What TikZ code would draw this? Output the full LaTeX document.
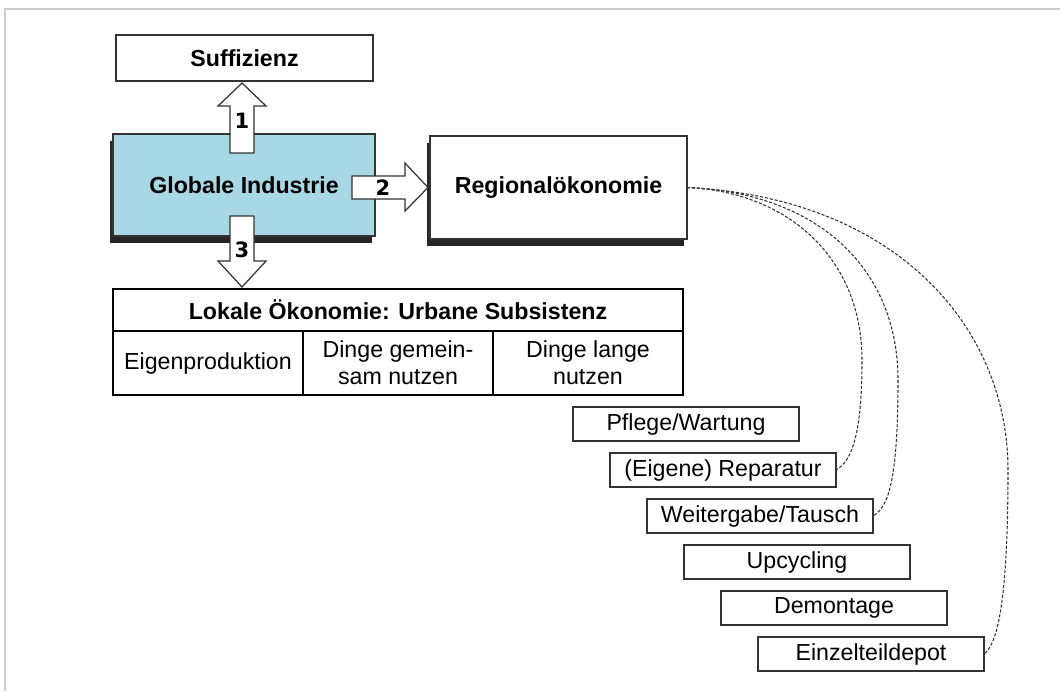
\documentclass[tikz,border=0pt]{standalone}
\usepackage{fontspec}
\setmainfont{Liberation Sans}
\newfontfamily\numfont{DejaVu Sans}
\usetikzlibrary{shadows}
\definecolor{globalblue}{RGB}{168,216,229}

\begin{document}
\begin{tikzpicture}[x=0.02cm,y=-0.02cm,
  font=\fontsize{13.2}{15.3}\selectfont,
  box/.style={draw=black!80,line width=0.7pt,fill=white,inner sep=0pt,outer sep=0pt,align=center},
  shadowbox/.style={box,drop shadow={shadow xshift=-0.06cm,shadow yshift=-0.14cm,fill=black!85,opacity=1}},
  headfont/.style={font=\fontsize{13.2}{15.3}\selectfont\bfseries},
  cell/.style={draw=black,line width=0.8pt,inner sep=0pt,outer sep=0pt,minimum width=3.8cm,minimum height=1.28cm,align=center},
  stepbox/.style={box,minimum width=4.52cm,minimum height=0.68cm},
  blockarrow/.style={draw=black!80,fill=white,line width=0.7pt,line join=miter},
  num/.style={font=\numfont\bfseries\fontsize{12}{14}\selectfont},
  link/.style={draw=black!80,line width=0.6pt,dash pattern=on 1.8pt off 1pt}]
\useasboundingbox (0,0) rectangle (1060,691);

% frame
\draw [black!20,line width=1.5pt] (5,691) -- (5,9) -- (1060,9);

% main boxes
\node [box,headfont,minimum width=5.14cm,minimum height=0.92cm] (suff) at (244.5,58) {Suffizienz};
\node [shadowbox,headfont,fill=globalblue,minimum width=5.24cm,minimum height=2.04cm] (glob) at (244,185) {Globale Industrie};
\node [shadowbox,headfont,minimum width=5.14cm,minimum height=2.06cm] (regio) at (558.5,187.5) {Regionalökonomie};

% local economy table
\node [cell,headfont,minimum width=11.4cm,minimum height=0.84cm] (lokal) at (398,310) {Lokale Ökonomie: Urbane Subsistenz};
\node [cell] (eigen) at (208,363) {Eigenproduktion};
\node [cell] (gemein) at (398,363) {Dinge gemein-\\sam nutzen};
\node [cell] (lange) at (588,363) {Dinge lange\\nutzen};

% block arrows
\draw [blockarrow] (230,153) -- (230,106) -- (218,106) -- (242,83) -- (266,106) -- (254,106) -- (254,153) -- cycle;
\node [num] (n1) at (242,121) {1};
\draw [blockarrow] (352,176) -- (405,176) -- (405,163) -- (428,187.5) -- (405,211) -- (405,199) -- (352,199) -- cycle;
\node [num] (n2) at (383,188) {2};
\draw [blockarrow] (230,216) -- (230,261) -- (218,261) -- (242,287) -- (266,261) -- (254,261) -- (254,216) -- cycle;
\node [num] (n3) at (242,250) {3};

% steps
\node [stepbox] (pflege) at (686,424) {Pflege/Wartung};
\node [stepbox] (rep) at (723,470) {(Eigene) Reparatur};
\node [stepbox] (weiter) at (760,516) {Weitergabe/Tausch};
\node [stepbox] (upcyc) at (797,562) {Upcycling};
\node [stepbox] (demont) at (834,608) {Demontage};
\node [stepbox] (depot) at (871,654) {Einzelteildepot};

% dashed links
\draw [link] (regio.east) .. controls (790,192) and (862,260) .. (862,360) .. controls (862,440) and (850,462) .. (rep.east);
\draw [link] (regio.east) .. controls (820,193) and (898,270) .. (898,380) .. controls (898,490) and (886,508) .. (weiter.east);
\draw [link] (regio.east) .. controls (900,198) and (1008,330) .. (1008,470) .. controls (1008,610) and (996,645) .. (depot.east);
\end{tikzpicture}
\end{document}
